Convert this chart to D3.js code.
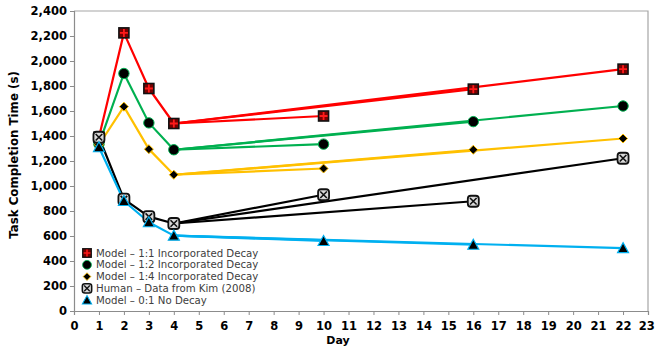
<!DOCTYPE html>
<html>
<head>
<meta charset="utf-8">
<script src="https://cdn.jsdelivr.net/npm/d3@7/dist/d3.min.js"></script>
<style>
  html, body { margin: 0; padding: 0; background: #fff; }
  svg { display: block; font-family: "DejaVu Sans", Verdana, sans-serif; }
</style>
</head>
<body>
<svg id="chart" width="655" height="348"></svg>
<script>
// Days of the training phase (connected path) and the retention test days (branches from day 4)
const trainDays = [1, 2, 3, 4];
const retentionDays = [10, 16, 22];

// Task completion time (s) per series
const decay11Train = [1390, 2225, 1780, 1500];
const decay11Retention = [1560, 1775, 1935];
const decay12Train = [1335, 1900, 1505, 1290];
const decay12Retention = [1335, 1515, 1640];
const decay14Train = [1330, 1635, 1295, 1090];
const decay14Retention = [1140, 1290, 1380];
const humanTrain = [1390, 895, 755, 700];
const humanRetention = [930, 878, 1222];
const noDecayTrain = [1310, 880, 710, 603];
const noDecayRetention = [560, 530, 503];

const seriesNames = [
  "Model \u2013 1:1 Incorporated Decay",
  "Model \u2013 1:2 Incorporated Decay",
  "Model \u2013 1:4 Incorporated Decay",
  "Human \u2013 Data from Kim (2008)",
  "Model \u2013 0:1 No Decay"
];

const xTicks = d3.range(0, 24);
const yTicks = d3.range(0, 2401, 200);

const series = [
  { name: seriesNames[0], train: decay11Train, ret: decay11Retention, color: "#ff0000", marker: "square" },
  { name: seriesNames[1], train: decay12Train, ret: decay12Retention, color: "#00b050", marker: "circle" },
  { name: seriesNames[2], train: decay14Train, ret: decay14Retention, color: "#ffc000", marker: "diamond" },
  { name: seriesNames[3], train: humanTrain, ret: humanRetention, color: "#000000", marker: "xbox" },
  { name: seriesNames[4], train: noDecayTrain, ret: noDecayRetention, color: "#00b0f0", marker: "triangle" }
];

const svg = d3.select("#chart");
const plotLeft = 74, plotRight = 648, plotTop = 11, plotBottom = 311;

const x = d3.scaleLinear().domain([0, 23]).range([plotLeft, plotRight]);
const y = d3.scaleLinear().domain([0, 2400]).range([plotBottom, plotTop]);

// Plot frame (top and right edges)
svg.append("path")
  .attr("d", `M${plotLeft},${plotTop}H${plotRight}V${plotBottom}`)
  .attr("fill", "none").attr("stroke", "#a6a6a6").attr("stroke-width", 1.2);

// Axes
const xAxis = svg.append("g").attr("transform", `translate(0,${plotBottom})`)
  .call(d3.axisBottom(x).tickValues(xTicks).tickSize(4).tickPadding(7).tickFormat(d3.format("d")));
const yAxis = svg.append("g").attr("transform", `translate(${plotLeft},0)`)
  .call(d3.axisLeft(y).tickValues(yTicks).tickSize(4).tickPadding(3).tickFormat(d3.format(",")));

[xAxis, yAxis].forEach(g => {
  g.select(".domain").attr("stroke", "#8c8c8c").attr("stroke-width", 1.2);
  g.selectAll(".tick line").attr("stroke", "#8c8c8c");
  g.selectAll("text").attr("font-size", 11.5).attr("font-weight", "bold").attr("fill", "#000")
    .attr("font-family", "DejaVu Sans, Verdana, sans-serif");
});
// keep the last day label inside the canvas edge
xAxis.selectAll(".tick text").filter(d => d === 23).attr("text-anchor", "end").attr("dx", "0.55em");

// Axis titles
svg.append("text")
  .attr("x", 338).attr("y", 344)
  .attr("text-anchor", "middle").attr("font-size", 11).attr("font-weight", "bold")
  .text("Day");
svg.append("text")
  .attr("transform", `translate(18,155) rotate(-90)`)
  .attr("text-anchor", "middle").attr("font-size", 11.8).attr("font-weight", "bold")
  .text("Task Completion Time (s)");

// Lines: training path plus one branch from day 4 to each retention day
const line = d3.line().x(d => x(d[0])).y(d => y(d[1]));
const lineG = svg.append("g");
series.forEach(s => {
  const path = trainDays.map((d, i) => [d, s.train[i]]);
  lineG.append("path").attr("d", line(path))
    .attr("fill", "none").attr("stroke", s.color).attr("stroke-width", 2.2)
    .attr("stroke-linejoin", "round");
  const last = path[path.length - 1];
  retentionDays.forEach((d, i) => {
    lineG.append("path").attr("d", line([last, [d, s.ret[i]]]))
      .attr("fill", "none").attr("stroke", s.color).attr("stroke-width", 2.2);
  });
});

// Marker drawing
function drawMarker(g, type, color, cx, cy, scale) {
  const k = scale || 1;
  const m = g.append("g").attr("transform", `translate(${cx},${cy}) scale(${k})`);
  if (type === "square") {
    m.append("rect").attr("x", -5).attr("y", -5).attr("width", 10).attr("height", 10)
      .attr("fill", "#7a0000").attr("stroke", "#111").attr("stroke-width", 1.6);
    m.append("path").attr("d", "M0,-4V4M-4,0H4").attr("stroke", "#ff1a1a").attr("stroke-width", 1.8);
  } else if (type === "circle") {
    m.append("circle").attr("r", 5.2).attr("fill", "#000").attr("stroke", color).attr("stroke-width", 1);
  } else if (type === "diamond") {
    m.append("path").attr("d", "M0,-4.5L4.5,0L0,4.5L-4.5,0Z")
      .attr("fill", "#000").attr("stroke", color).attr("stroke-width", 1);
  } else if (type === "xbox") {
    m.append("rect").attr("x", -5.5).attr("y", -5.5).attr("width", 11).attr("height", 11).attr("rx", 3)
      .attr("fill", "#d9d9d9").attr("stroke", "#111").attr("stroke-width", 1.8);
    m.append("path").attr("d", "M-3.3,-3.3L3.3,3.3M3.3,-3.3L-3.3,3.3")
      .attr("stroke", "#111").attr("stroke-width", 1.6);
  } else if (type === "triangle") {
    m.append("path").attr("d", "M0,-5.5L5.5,4.5H-5.5Z")
      .attr("fill", "#000").attr("stroke", color).attr("stroke-width", 1.2);
  }
}

const markerG = svg.append("g");
series.forEach(s => {
  trainDays.forEach((d, i) => drawMarker(markerG, s.marker, s.color, x(d), y(s.train[i])));
  retentionDays.forEach((d, i) => drawMarker(markerG, s.marker, s.color, x(d), y(s.ret[i])));
});

// Legend
const legend = svg.append("g").attr("transform", "translate(87,253)");
series.forEach((s, i) => {
  const row = legend.append("g").attr("transform", `translate(0,${i * 11.8})`);
  drawMarker(row, s.marker, s.color, 0, 0, 0.85);
  row.append("text").attr("x", 9).attr("y", 0).attr("dy", "0.35em")
    .attr("font-size", 10.2).attr("fill", "#404040").text(s.name);
});
</script>
</body>
</html>
